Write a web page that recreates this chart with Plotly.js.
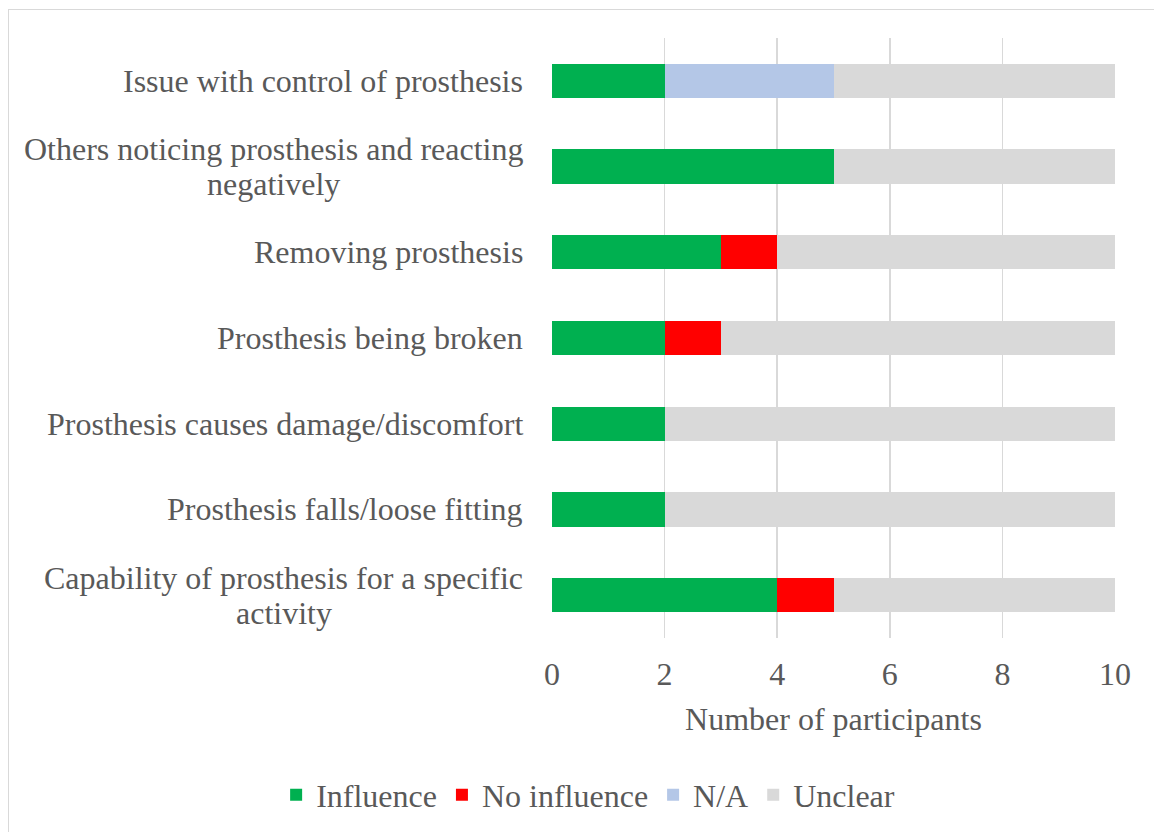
<!DOCTYPE html>
<html>
<head>
<meta charset="utf-8">
<script src="https://cdn.plot.ly/plotly-3.0.1.min.js"></script>
<style>
html,body{margin:0;padding:0;overflow:hidden;background:#fff;}
#frame{position:absolute;left:8px;top:9px;width:1300px;height:1000px;border:1px solid #d9d9d9;box-sizing:border-box;}
#chart{position:absolute;left:0;top:0;width:1154px;height:832px;}
</style>
</head>
<body>
<div id="frame"></div>
<div id="chart"></div>
<script>
const categories = [
  "Issue with control of prosthesis",
  "Others noticing prosthesis and reacting<br>negatively",
  "Removing prosthesis",
  "Prosthesis being broken",
  "Prosthesis causes damage/discomfort",
  "Prosthesis falls/loose fitting",
  "Capability of prosthesis for a specific<br>activity"
];
const influence   = [2, 5, 3, 2, 2, 2, 4];
const noInfluence = [0, 0, 1, 1, 0, 0, 1];
const notApplicable = [3, 0, 0, 0, 0, 0, 0];
const unclear     = [5, 5, 6, 7, 8, 8, 5];
const seriesNames = ["Influence", "No influence", "N/A", "Unclear"];
const seriesColors = ["#00B050", "#FF0000", "#B4C7E7", "#D9D9D9"];
const xTicks = [0, 2, 4, 6, 8, 10];

const font = "Liberation Serif, Times New Roman, serif";
const fs = 32;
const txt = "#595959";
const values = [influence, noInfluence, notApplicable, unclear];
const traces = values.map((v, i) => ({
  type: "bar",
  orientation: "h",
  name: seriesNames[i],
  x: v,
  y: categories,
  marker: {color: seriesColors[i], line: {width: 0}},
  hoverinfo: "x+y+name"
}));

// category labels: centred lines, Excel-like line spacing
const annotations = [];
categories.forEach(c => {
  const lines = c.split("<br>");
  const gap = 35;
  lines.forEach((ln, k) => {
    annotations.push({
      xref: "paper", yref: "y", x: 0, y: c,
      xanchor: "center", yanchor: "middle",
      xshift: 0,
      yshift: -(k - (lines.length - 1) / 2) * gap,
      text: ln, showarrow: false, _group: lines[0],
      font: {family: font, size: fs, color: txt}
    });
  });
});

const layout = {
  width: 1154, height: 832,
  margin: {l: 552, r: 39, t: 38, b: 194, pad: 0, autoexpand: false},
  paper_bgcolor: "rgba(0,0,0,0)",
  plot_bgcolor: "rgba(0,0,0,0)",
  barmode: "stack",
  bargap: 0.6,
  showlegend: true,
  legend: {
    orientation: "h", x: -0.49, xanchor: "left",
    y: -0.2617, yanchor: "middle",
    font: {family: font, size: fs, color: txt},
    traceorder: "normal"
  },
  xaxis: {
    range: [0, 10], tickvals: xTicks, ticktext: xTicks.map(String),
    showgrid: true, gridcolor: "#D9D9D9", gridwidth: 1.5,
    zeroline: false, showline: false, ticks: "",
    ticklabelstandoff: 14,
    tickfont: {family: font, size: fs, color: txt},
    title: {text: "Number of participants", standoff: 16,
            font: {family: font, size: fs, color: txt}}
  },
  yaxis: {
    type: "category", categoryorder: "array", categoryarray: categories,
    autorange: "reversed", showticklabels: false, showgrid: false,
    zeroline: false, showline: false, ticks: ""
  },
  annotations: [],
  font: {family: font, color: txt}
};

// measure text widths so multi-line labels are centred on the widest line,
// with the widest line right-aligned at the label edge
const cnv = document.createElement("canvas").getContext("2d");
cnv.font = fs + "px 'Liberation Serif', 'Times New Roman', serif";
const groupWidth = {};
annotations.forEach(a => {
  const w = cnv.measureText(a.text).width;
  groupWidth[a._group] = Math.max(groupWidth[a._group] || 0, w);
});
annotations.forEach(a => {
  a.xshift = -29 - groupWidth[a._group] / 2;
  delete a._group;
});
layout.annotations = annotations;

Plotly.newPlot("chart", traces, layout, {displayModeBar: false, staticPlot: true});
</script>
</body>
</html>
